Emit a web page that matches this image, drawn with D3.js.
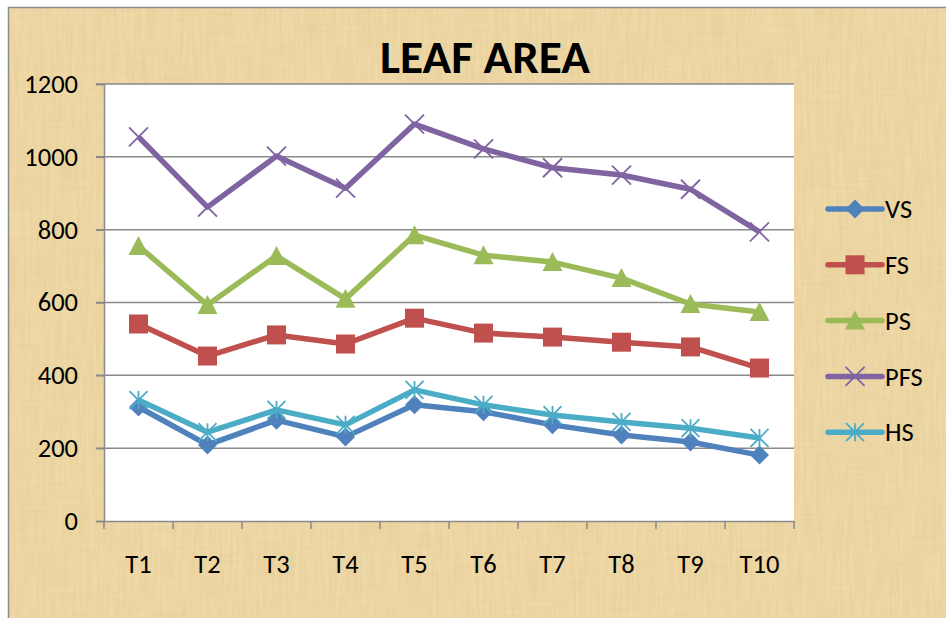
<!DOCTYPE html>
<html><head><meta charset="utf-8">
<script src="https://cdn.jsdelivr.net/npm/d3@7"></script>
<style>html,body{margin:0;padding:0;background:#fff;}svg{display:block;}</style>
</head><body>
<script>
const categories = ["T1","T2","T3","T4","T5","T6","T7","T8","T9","T10"];
const seriesNames = ["VS","FS","PS","PFS","HS"];
const VS  = [313, 209, 277, 231, 319, 300, 264, 236, 217, 181];
const FS  = [541, 453, 511, 486, 557, 516, 505, 491, 478, 420];
const PS  = [755, 593, 728, 610, 785, 730, 711, 667, 596, 574];
const PFS = [1055, 862, 1002, 914, 1090, 1022, 970, 950, 911, 794];
const HS  = [332, 244, 305, 264, 360, 319, 291, 272, 255, 228];
const yTicks = [0, 200, 400, 600, 800, 1000, 1200];
const colors = ["#4F81BD","#C0504D","#9BBB59","#8064A2","#4BACC6"];
const markers = ["diamond","square","triangle","x","asterisk"];
const seriesData = [VS, FS, PS, PFS, HS];

const W = 946, H = 618;
const FONT = "Carlito, Lato, 'Open Sans', sans-serif";
const FS_TXT = 26.5;
const svg = d3.select("body").append("svg").attr("width", W).attr("height", H);
const defs = svg.append("defs");
const f = defs.append("filter").attr("id","paper").attr("x",0).attr("y",0).attr("width","100%").attr("height","100%");
f.append("feTurbulence").attr("type","fractalNoise").attr("baseFrequency","0.02 0.3").attr("numOctaves",3).attr("seed",7).attr("result","n");
f.append("feColorMatrix").attr("in","n").attr("type","matrix")
  .attr("values","0 0 0 0 0.62  0 0 0 0 0.50  0 0 0 0 0.25  0 0 0 0.3 -0.06").attr("result","c");
f.append("feComposite").attr("in","c").attr("in2","SourceGraphic").attr("operator","in");
const f2 = defs.append("filter").attr("id","paper2").attr("x",0).attr("y",0).attr("width","100%").attr("height","100%");
f2.append("feTurbulence").attr("type","fractalNoise").attr("baseFrequency","0.3 0.02").attr("numOctaves",2).attr("seed",3).attr("result","n");
f2.append("feColorMatrix").attr("in","n").attr("type","matrix")
  .attr("values","0 0 0 0 0.98  0 0 0 0 0.92  0 0 0 0 0.75  0 0 0 0.35 -0.08").attr("result","c");
f2.append("feComposite").attr("in","c").attr("in2","SourceGraphic").attr("operator","in");

// background
svg.append("rect").attr("x",0).attr("y",0).attr("width",W).attr("height",H).attr("fill","#ffffff");
svg.append("rect").attr("x",8).attr("y",7).attr("width",W-8).attr("height",H-7).attr("fill","#EDD49E");
svg.append("rect").attr("x",8).attr("y",7).attr("width",W-8).attr("height",H-7).attr("fill","#EDD49E").attr("filter","url(#paper)");
svg.append("rect").attr("x",8).attr("y",7).attr("width",W-8).attr("height",H-7).attr("fill","#EDD49E").attr("filter","url(#paper2)");
svg.append("path").attr("d",`M8.5,${H} V7.5 H${W}`).attr("fill","none").attr("stroke","#8c8c8c").attr("stroke-width",1.5);

const plot = {left:104, top:84, right:794, bottom:521};
const x = d3.scaleBand().domain(categories).range([plot.left, plot.right]);
const y = d3.scaleLinear().domain([0,1200]).range([plot.bottom, plot.top]);

svg.append("rect").attr("x",plot.left).attr("y",plot.top).attr("width",plot.right-plot.left).attr("height",plot.bottom-plot.top).attr("fill","#ffffff");

// gridlines
svg.append("g").selectAll("line").data(yTicks.filter(d=>d>0)).join("line")
  .attr("x1",plot.left-8).attr("x2",plot.right)
  .attr("y1",d=>y(d)).attr("y2",d=>y(d))
  .attr("stroke","#8a8a8a").attr("stroke-width",1.5);

// y axis
const yAxis = svg.append("g").attr("transform",`translate(${plot.left},0)`)
  .call(d3.axisLeft(y).tickValues(yTicks).tickFormat(d3.format("d")).tickSize(8).tickPadding(18));
yAxis.select(".domain").attr("stroke","#8a8a8a").attr("stroke-width",1.5);
yAxis.selectAll(".tick line").attr("stroke","#8a8a8a").attr("stroke-width",1.5);
yAxis.selectAll("text").attr("font-family",FONT).attr("font-size",FS_TXT).attr("fill","#000");

// x axis
const xAxis = svg.append("g").attr("transform",`translate(0,${plot.bottom})`)
  .call(d3.axisBottom(x).tickSize(0).tickPadding(33));
xAxis.select(".domain").attr("stroke","#8a8a8a").attr("stroke-width",1.5);
xAxis.selectAll("text").attr("font-family",FONT).attr("font-size",FS_TXT).attr("fill","#000");
const edges = categories.map(c=>x(c)).concat([x(categories[categories.length-1])+x.bandwidth()]);
svg.append("g").selectAll("line").data(edges).join("line")
  .attr("x1",d=>d).attr("x2",d=>d).attr("y1",plot.bottom).attr("y2",plot.bottom+8)
  .attr("stroke","#8a8a8a").attr("stroke-width",1.5);

function markerPath(type, s){
  const h = s/2;
  switch(type){
    case "diamond": return `M0,${-h} L${h},0 L0,${h} L${-h},0 Z`;
    case "square": return `M${-h},${-h} H${h} V${h} H${-h} Z`;
    case "triangle": return `M0,${-h} L${h},${h*0.9} L${-h},${h*0.9} Z`;
    case "x": return `M${-h},${-h} L${h},${h} M${-h},${h} L${h},${-h}`;
    case "asterisk": return `M${-h},${-h} L${h},${h} M${-h},${h} L${h},${-h} M0,${-h} V${h}`;
  }
}
const markerSize = {diamond:19, square:19, triangle:20, x:19, asterisk:18};

const line = d3.line().x((d,i)=>x(categories[i])+x.bandwidth()/2).y(d=>y(d));
seriesData.forEach((vals, si)=>{
  const g = svg.append("g");
  g.append("path").datum(vals).attr("d",line).attr("fill","none")
    .attr("stroke",colors[si]).attr("stroke-width",5.5).attr("stroke-linejoin","round");
  const open = markers[si]==="x"||markers[si]==="asterisk";
  g.selectAll("path.m").data(vals).join("path").attr("class","m")
    .attr("transform",(d,i)=>`translate(${x(categories[i])+x.bandwidth()/2},${y(d)})`)
    .attr("d",markerPath(markers[si], markerSize[markers[si]]))
    .attr("fill",open?"none":colors[si]).attr("stroke",colors[si]).attr("stroke-width",open?1.8:0);
});

// legend
const leg = svg.append("g");
seriesNames.forEach((name, si)=>{
  const ly = 209 + si*55.8;
  const g = leg.append("g").attr("transform",`translate(0,${ly})`);
  g.append("line").attr("x1",828).attr("x2",882).attr("y1",0).attr("y2",0).attr("stroke",colors[si]).attr("stroke-width",5.5).attr("stroke-linecap","round");
  const open = markers[si]==="x"||markers[si]==="asterisk";
  g.append("path").attr("transform","translate(855,0)").attr("d",markerPath(markers[si], markerSize[markers[si]]))
    .attr("fill",open?"none":colors[si]).attr("stroke",colors[si]).attr("stroke-width",open?1.8:0);
  g.append("text").attr("x",885).attr("y",0).attr("dy","0.35em").text(name)
    .attr("font-family",FONT).attr("font-size",FS_TXT).attr("fill","#000");
});

// title
svg.append("text").attr("x",485).attr("y",73).attr("text-anchor","middle").text("LEAF AREA")
  .attr("font-family",FONT).attr("font-weight","bold").attr("font-size",46)
  .attr("textLength",210).attr("lengthAdjust","spacingAndGlyphs").attr("fill","#000");
</script>
</body></html>
